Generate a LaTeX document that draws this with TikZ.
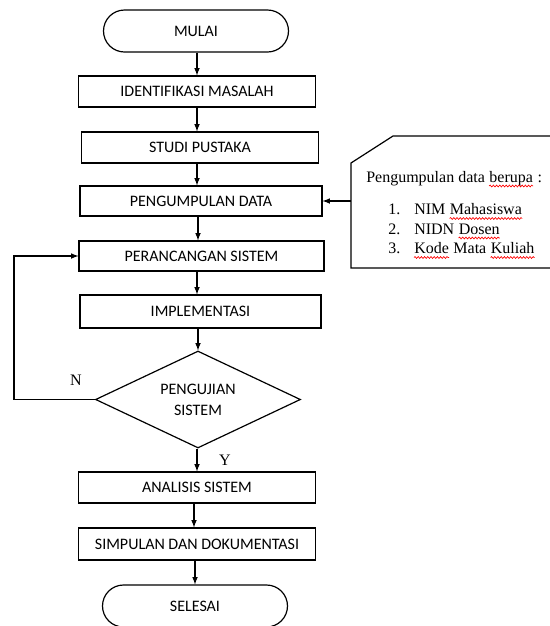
\documentclass[tikz,border=0pt]{standalone}
\usepackage{fontspec}
\setmainfont{Liberation Serif}
\newfontfamily\boxfont{Carlito}
\usepackage{xcolor}
\usetikzlibrary{shapes,arrows}
\usetikzlibrary{decorations.pathmorphing}

\begin{document}
\begin{tikzpicture}[x=0.75pt,y=0.75pt,yscale=-1,xscale=1,
    proses/.style={draw, line width=0.9pt, minimum width=177.75pt, minimum height=23.25pt, inner sep=0pt, font=\boxfont\fontsize{12}{14}\selectfont},
    terminal/.style={draw, line width=0.9pt, rounded rectangle, minimum width=138.75pt, minimum height=31.5pt, inner sep=0pt, font=\boxfont\fontsize{12}{14}\selectfont},
    keputusan/.style={draw, line width=0.9pt, diamond, aspect=2.1, minimum width=153.75pt, minimum height=72.75pt, inner sep=0pt, align=center, font=\boxfont\fontsize{12}{15.75}\selectfont},
    panah/.style={-latex, line width=0.9pt},
    isi/.style={anchor=base west, inner sep=0pt, font=\fontsize{12}{14}\selectfont},
    sambung/.style={isi, xshift=3pt},
    salah/.style={red, line width=0.5pt, decorate, decoration={snake, amplitude=0.7pt, segment length=2.4pt}}]
    \useasboundingbox (0,0) rectangle (550,626);
    \clip (0,0) rectangle (550,626);

    %Terminal: Mulai
    \node [terminal] (mulai) at (196,31) {MULAI};
    %Process boxes
    \node [proses] (identifikasi) at (197,91.5) {IDENTIFIKASI MASALAH};
    \node [proses] (studi) at (200,147.5) {STUDI PUSTAKA};
    \node [proses, minimum width=181.5pt, minimum height=22.5pt] (pengumpulan) at (201,201) {PENGUMPULAN DATA};
    \node [proses, minimum width=183.75pt, minimum height=22.5pt] (perancangan) at (201.5,256) {PERANCANGAN SISTEM};
    \node [proses, minimum width=180.75pt, minimum height=24.75pt] (implementasi) at (200.5,311.5) {IMPLEMENTASI};
    %Decision
    \node [keputusan] (pengujian) at (198,399.5) {PENGUJIAN\\SISTEM};
    \node [proses] (analisis) at (197,487.5) {ANALISIS SISTEM};
    \node [proses, minimum height=24pt] (simpulan) at (197,544) {SIMPULAN DAN DOKUMENTASI};
    %Terminal: Selesai
    \node [terminal] (selesai) at (195,606) {SELESAI};

    %Straight Lines: main flow
    \draw [panah] (mulai.south -| 197,0) -- (identifikasi.north -| 197,0);
    \draw [panah] (identifikasi.south) -- (identifikasi.south |- studi.north);
    \draw [panah] (identifikasi.south |- studi.south) -- (identifikasi.south |- pengumpulan.north);
    \draw [panah] (pengumpulan.south -| 198,0) -- (perancangan.north -| 198,0);
    \draw [panah] (perancangan.south -| 197,0) -- (implementasi.north -| 197,0);
    \draw [panah] (implementasi.south -| pengujian.north) -- (pengujian.north);
    \draw [panah] (pengujian.south -| 197,0) -- (analisis.north -| 197,0);
    \draw [panah] (analisis.south -| 194,0) -- (simpulan.north -| 194,0);
    \draw [panah] (simpulan.south -| 195,0) -- (selesai.north);

    %Loop back: N
    \coordinate (balik) at (14,399.5);
    \draw [panah] (pengujian.west) -- (balik) |- (perancangan.west);

    % Text Node
    \node [inner sep=0pt, font=\fontsize{12}{14}\selectfont] (labelN) at (76,380) {N};
    % Text Node
    \node [inner sep=0pt, font=\fontsize{12}{14}\selectfont] (labelY) at (225,460) {Y};

    %Shape: Card (data)
    \draw [line width=0.9pt] (565,136) -- (393,136) -- (351,163) -- (351,268) -- (565,268);
    \coordinate (kartu) at (351,201);
    \draw [panah] (kartu) -- (pengumpulan.east |- kartu);

    % Text Nodes in card
    \node [isi] (judul) at (366,182) {Pengumpulan data};
    \node [sambung] (berupa) at (judul.base east) {berupa};
    \node [sambung] (titik) at (berupa.base east) {:};
    \node [isi] (no1) at (388,214.5) {1.};
    \node [isi] (nim) at (414,214.5) {NIM};
    \node [sambung] (mhs) at (nim.base east) {Mahasiswa};
    \node [isi] (no2) at (388,234) {2.};
    \node [isi] (nidn) at (414,234) {NIDN};
    \node [sambung] (dosen) at (nidn.base east) {Dosen};
    \node [isi] (no3) at (388,253.5) {3.};
    \node [isi] (kode) at (414,253.5) {Kode};
    \node [sambung] (mata) at (kode.base east) {Mata};
    \node [sambung] (kuliah) at (mata.base east) {Kuliah};

    %Spelling marks
    \foreach \w in {berupa,mhs,dosen,kode,kuliah}
      \draw [salah] ([yshift=3pt]\w.base west) -- ([yshift=3pt]\w.base east);

\end{tikzpicture}
\end{document}
